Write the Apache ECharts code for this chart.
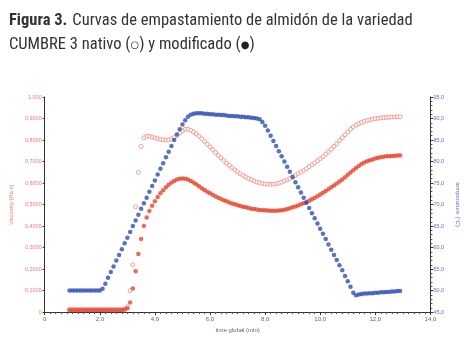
<!DOCTYPE html>
<html>
<head>
<meta charset="utf-8">
<script src="https://cdn.jsdelivr.net/npm/echarts@6/dist/echarts.min.js"></script>
<style>
html, body { margin: 0; padding: 0; background: #fff; }
#chart { width: 469px; height: 338px; }
</style>
</head>
<body>
<div id="chart"></div>
<script>
// time (min), one reading every 0.1 min
const time = [
	0.9, 1.0, 1.1, 1.2, 1.3, 1.4, 1.5, 1.6, 1.7, 1.8, 1.9, 2.0, 2.1, 2.2, 2.3, 2.4, 2.5, 2.6, 2.7, 2.8, 2.9,
	3.0, 3.1, 3.2, 3.3, 3.4, 3.5, 3.6, 3.7, 3.8, 3.9, 4.0, 4.1, 4.2, 4.3, 4.4, 4.5, 4.6, 4.7, 4.8, 4.9,
	5.0, 5.1, 5.2, 5.3, 5.4, 5.5, 5.6, 5.7, 5.8, 5.9, 6.0, 6.1, 6.2, 6.3, 6.4, 6.5, 6.6, 6.7, 6.8, 6.9,
	7.0, 7.1, 7.2, 7.3, 7.4, 7.5, 7.6, 7.7, 7.8, 7.9, 8.0, 8.1, 8.2, 8.3, 8.4, 8.5, 8.6, 8.7, 8.8, 8.9,
	9.0, 9.1, 9.2, 9.3, 9.4, 9.5, 9.6, 9.7, 9.8, 9.9, 10.0, 10.1, 10.2, 10.3, 10.4, 10.5, 10.6, 10.7, 10.8, 10.9,
	11.0, 11.1, 11.2, 11.3, 11.4, 11.5, 11.6, 11.7, 11.8, 11.9, 12.0, 12.1, 12.2, 12.3, 12.4, 12.5, 12.6, 12.7, 12.8, 12.9
];

// temperature (°C), right axis
const temperature = [
	50.0, 50.0, 50.0, 50.0, 50.0, 50.0, 50.0, 50.0, 50.0, 50.0, 50.0, 50.0,
	50.4, 51.6, 53.0, 54.3, 55.6, 57.0, 58.3, 59.6, 61.0,
	62.3, 63.6, 65.0, 66.3, 67.6, 69.0, 70.3, 71.6, 73.0, 74.3,
	75.6, 77.0, 78.3, 79.6, 81.0, 82.3, 83.6, 85.0, 86.3, 87.5,
	88.6, 89.6, 90.4, 90.9, 91.1, 91.2, 91.2, 91.2, 91.1, 91.1,
	91.0, 91.0, 90.9, 90.9, 90.8, 90.8, 90.7, 90.6, 90.6, 90.5,
	90.5, 90.4, 90.4, 90.3, 90.3, 90.2, 90.1, 90.0, 89.8, 89.2,
	88.3, 87.2, 86.0, 84.8, 83.6, 82.4, 81.2, 80.0, 78.8, 77.6,
	76.4, 75.2, 74.0, 72.8, 71.6, 70.4, 69.2, 68.0, 66.8, 65.6,
	64.4, 63.2, 62.0, 60.7, 59.5, 58.3, 57.1, 55.9, 54.7, 53.4,
	52.2, 50.9, 49.5, 48.9, 49.1, 49.2, 49.3, 49.3, 49.4, 49.4,
	49.5, 49.5, 49.6, 49.6, 49.7, 49.7, 49.8, 49.8, 49.9, 49.9
];

// viscosity (Pa.s), native starch (open circles)
const nativo = [
	0.012, 0.012, 0.012, 0.012, 0.012, 0.012, 0.012, 0.012, 0.012, 0.012, 0.012,
	0.012, 0.012, 0.012, 0.012, 0.012, 0.012, 0.012, 0.012, 0.012, 0.012,
	0.025, 0.10, 0.22, 0.49, 0.65, 0.77, 0.81, 0.818, 0.817, 0.814,
	0.81, 0.806, 0.803, 0.801, 0.80, 0.801, 0.805, 0.812, 0.822, 0.833,
	0.843, 0.85, 0.85, 0.845, 0.837, 0.828, 0.818, 0.806, 0.794, 0.781,
	0.768, 0.755, 0.742, 0.729, 0.717, 0.705, 0.693, 0.682, 0.671, 0.661,
	0.652, 0.643, 0.635, 0.628, 0.621, 0.615, 0.61, 0.605, 0.601, 0.598,
	0.596, 0.595, 0.594, 0.595, 0.597, 0.60, 0.604, 0.609, 0.615, 0.621,
	0.628, 0.635, 0.643, 0.651, 0.659, 0.667, 0.676, 0.685, 0.694, 0.703,
	0.713, 0.723, 0.734, 0.745, 0.757, 0.77, 0.783, 0.797, 0.811, 0.825,
	0.838, 0.85, 0.86, 0.869, 0.876, 0.882, 0.887, 0.891, 0.894, 0.897,
	0.899, 0.901, 0.903, 0.904, 0.905, 0.906, 0.907, 0.907, 0.908, 0.908
];

// viscosity (Pa.s), modified starch (filled dots)
const modificado = [
	0.010, 0.010, 0.010, 0.010, 0.010, 0.010, 0.010, 0.010, 0.010, 0.010,
	0.010, 0.010, 0.010, 0.010, 0.010, 0.010, 0.010, 0.010, 0.010, 0.010, 0.012,
	0.018, 0.045, 0.11, 0.19, 0.27, 0.34, 0.40, 0.44, 0.47, 0.495,
	0.515, 0.535, 0.552, 0.567, 0.58, 0.592, 0.602, 0.61, 0.616, 0.62,
	0.621, 0.62, 0.616, 0.61, 0.602, 0.594, 0.585, 0.576, 0.568, 0.56,
	0.552, 0.545, 0.538, 0.532, 0.526, 0.52, 0.515, 0.51, 0.505, 0.501,
	0.497, 0.493, 0.49, 0.487, 0.484, 0.481, 0.479, 0.477, 0.475, 0.474,
	0.473, 0.472, 0.471, 0.471, 0.471, 0.472, 0.474, 0.476, 0.479, 0.483,
	0.487, 0.491, 0.496, 0.501, 0.506, 0.512, 0.518, 0.525, 0.532, 0.539,
	0.547, 0.555, 0.563, 0.571, 0.58, 0.589, 0.598, 0.607, 0.617, 0.627,
	0.638, 0.649, 0.66, 0.67, 0.679, 0.688, 0.695, 0.701, 0.706, 0.71,
	0.714, 0.717, 0.72, 0.722, 0.724, 0.725, 0.726, 0.727, 0.728, 0.728
];

const pairs = values => time.map((t, i) => [t, values[i]]);
const comma = (v, d) => v.toFixed(d).replace(".", ",");

const narrow = "'Liberation Sans Narrow', 'Arial Narrow', 'Roboto Condensed', 'DejaVu Sans Condensed', sans-serif";
const small = "Arial, 'Liberation Sans', sans-serif";

const chart = echarts.init(document.getElementById("chart"));

const option = {
	animation: false,
	title: {
		left: 4,
		top: 4,
		text: "{b|Figura 3.} {r|Curvas de empastamiento de almidón de la variedad}\n{r|CUMBRE 3 nativo (}{s|○}{r|) y modificado (}{s|●}{r|)}",
		textStyle: {
			fontWeight: "normal",
			rich: {
				b: { fontFamily: narrow, fontSize: 16.5, fontWeight: "bold", color: "#333", lineHeight: 24 },
				r: { fontFamily: narrow, fontSize: 16.5, fontWeight: "normal", color: "#333", lineHeight: 24 },
				s: { fontFamily: "'DejaVu Sans', sans-serif", fontSize: 10, color: "#222", lineHeight: 24 }
			}
		}
	},
	grid: {
		left: 38,
		right: 24,
		top: 97,
		bottom: 24
	},
	xAxis: {
		type: "value",
		min: 0,
		max: 14,
		interval: 2,
		name: "time global (min)",
		nameLocation: "middle",
		nameGap: 12,
		nameTextStyle: { fontFamily: small, fontSize: 6, color: "#666" },
		axisLine: { lineStyle: { color: "#333" } },
		axisTick: { length: 3, lineStyle: { color: "#333" } },
		minorTick: { show: true, splitNumber: 10, length: 2, lineStyle: { color: "#555" } },
		splitLine: { show: false },
		axisLabel: {
			fontFamily: small,
			fontSize: 6,
			color: "#666",
			margin: 4,
			formatter: v => v === 0 ? "0" : comma(v, 1)
		}
	},
	yAxis: [{
		type: "value",
		position: "left",
		min: 0,
		max: 1,
		interval: 0.1,
		name: "viscosity (Pa.s)",
		nameLocation: "middle",
		nameGap: 26,
		nameTextStyle: { fontFamily: small, fontSize: 6, color: "#f07a70" },
		axisLine: { show: true, lineStyle: { color: "#333" } },
		axisTick: { show: true, length: 2, lineStyle: { color: "#333" } },
		splitLine: { show: false },
		axisLabel: {
			fontFamily: small,
			fontSize: 5.5,
			color: "#f07a70",
			margin: 3,
			formatter: v => v === 0 ? "0" : v === 1 ? "1,000" : comma(v, 4)
		}
	}, {
		type: "value",
		position: "right",
		min: 45,
		max: 95,
		interval: 5,
		name: "temperature (°C)",
		nameLocation: "middle",
		nameRotate: -90,
		nameGap: 17,
		nameTextStyle: { fontFamily: small, fontSize: 6, color: "#6670c4" },
		axisLine: { show: true, lineStyle: { color: "#333" } },
		axisTick: { show: true, length: 3, lineStyle: { color: "#333" } },
		minorTick: { show: true, splitNumber: 5, length: 2, lineStyle: { color: "#555" } },
		splitLine: { show: false },
		axisLabel: {
			fontFamily: small,
			fontSize: 5.5,
			color: "#6670c4",
			margin: 3,
			formatter: v => comma(v, 1)
		}
	}],
	series: [{
		name: "nativo",
		type: "scatter",
		yAxisIndex: 0,
		symbol: "circle",
		symbolSize: 4,
		itemStyle: { color: "#fff", borderColor: "#f08a7e", borderWidth: 1 },
		data: pairs(nativo)
	}, {
		name: "modificado",
		type: "scatter",
		yAxisIndex: 0,
		symbolSize: 4.5,
		itemStyle: { color: "#e8432e" },
		data: pairs(modificado)
	}, {
		name: "temperature",
		type: "scatter",
		yAxisIndex: 1,
		symbolSize: 4.5,
		itemStyle: { color: "#3050b4" },
		data: pairs(temperature)
	}]
};

chart.setOption(option);
window.onresize = chart.resize;
</script>
</body>
</html>
